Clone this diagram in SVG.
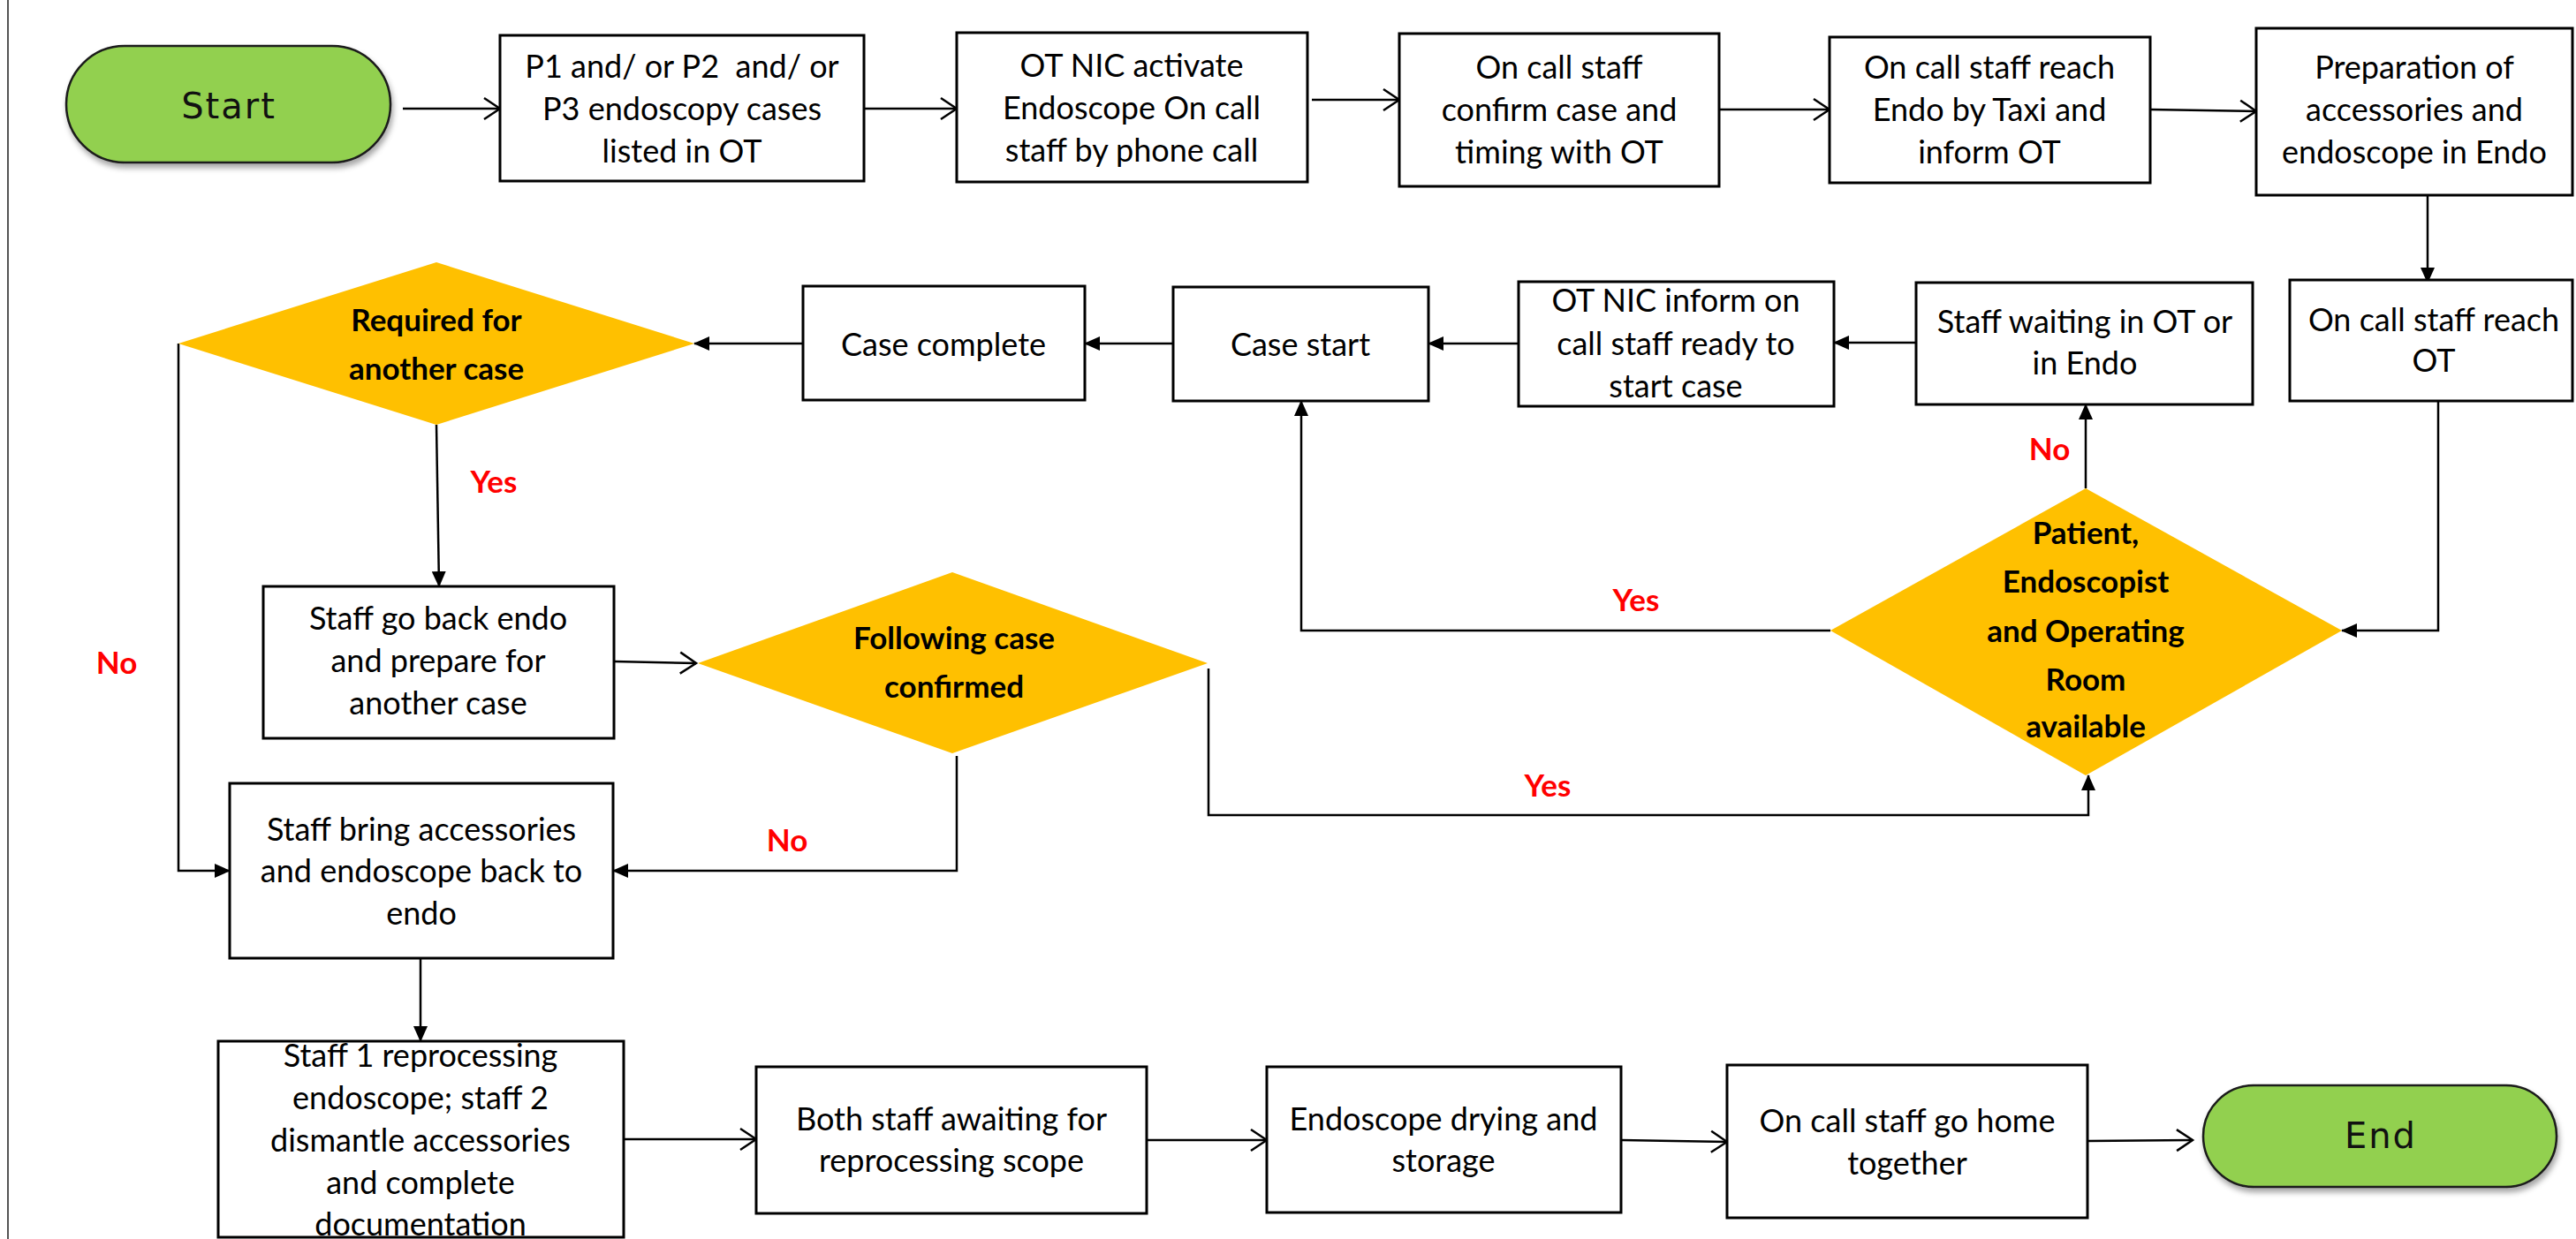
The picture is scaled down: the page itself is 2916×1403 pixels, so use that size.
<svg xmlns="http://www.w3.org/2000/svg" width="2916" height="1403" viewBox="0 0 2916 1403">
<style>
.bx{fill:#fff;stroke:#000;stroke-width:3}
.dm{fill:#FFC000;stroke:none}
.pill{fill:#92D050;stroke:#1a1a1a;stroke-width:2.5}
.t{font-family:Lato,"Open Sans","Liberation Sans",sans-serif;font-size:36px;text-anchor:middle;fill:#000}
.b{font-weight:bold;font-size:35px}
.lbl{font-family:Lato,"Open Sans","Liberation Sans",sans-serif;font-size:35px;font-weight:bold;fill:#FF0000;text-anchor:middle}
.pt{font-family:"DejaVu Sans",Verdana,sans-serif;font-size:40px;letter-spacing:2px;text-anchor:middle;fill:#111}
.c{fill:none;stroke:#000;stroke-width:2.5}
.of{marker-end:url(#open)}
.ff{marker-end:url(#fill)}
</style>
<defs>
<marker id="open" markerUnits="userSpaceOnUse" markerWidth="24" markerHeight="28" viewBox="0 0 24 28" refX="21" refY="14" orient="auto"><path d="M3,2 L21,14 L3,26" fill="none" stroke="#000" stroke-width="2.5"/></marker>
<marker id="fill" markerUnits="userSpaceOnUse" markerWidth="18" markerHeight="16" viewBox="0 0 18 16" refX="17" refY="8" orient="auto"><path d="M0,0 L18,8 L0,16 Z" fill="#000"/></marker>
<filter id="sh" x="-10%" y="-10%" width="120%" height="130%"><feDropShadow dx="2" dy="5" stdDeviation="3" flood-color="#000" flood-opacity="0.35"/></filter>
</defs>
<rect width="2916" height="1403" fill="#fff"/>
<line x1="9" y1="0" x2="9" y2="1403" stroke="#555" stroke-width="2"/>

<g id="connectors">
<path class="c of" d="M456,123 H566"/>
<path class="c of" d="M978,123 H1083"/>
<path class="c of" d="M1485,113 H1584"/>
<path class="c of" d="M1946,124 H2071"/>
<path class="c of" d="M2434,124 L2554,126"/>
<path class="c ff" d="M2748,221 V320"/>
<path class="c ff" d="M2760,454 V714 H2651"/>
<path class="c ff" d="M2361,553 V458"/>
<path class="c ff" d="M2169,388 H2076"/>
<path class="c ff" d="M1719,389 H1617"/>
<path class="c ff" d="M1328,389 H1228"/>
<path class="c ff" d="M909,389 H786"/>
<path class="c ff" d="M494,481 L497,664"/>
<path class="c ff" d="M202,389 V986 H260"/>
<path class="c of" d="M695,749 L788,751"/>
<path class="c ff" d="M1083,856 V986 H694"/>
<path class="c ff" d="M1368,757 V923 H2364 V878"/>
<path class="c ff" d="M2072,714 H1473 V454"/>
<path class="c ff" d="M476,1085 V1179"/>
<path class="c of" d="M706,1290 H856"/>
<path class="c of" d="M1298,1291 H1434"/>
<path class="c of" d="M1835,1291 L1955,1293"/>
<path class="c of" d="M2363,1292 L2482,1291"/>
<text class="lbl" x="559" y="558">Yes</text>
<text class="lbl" x="132" y="763">No</text>
<text class="lbl" x="1852" y="692">Yes</text>
<text class="lbl" x="1752" y="902">Yes</text>
<text class="lbl" x="891" y="964">No</text>
<text class="lbl" x="2320" y="521">No</text>
</g>

<g id="start">
<rect class="pill" x="75" y="52" width="367" height="132" rx="66" ry="66" filter="url(#sh)"/>
<text class="pt" x="259" y="134">Start</text>
</g>

<g id="n1">
<rect class="bx" x="566" y="40" width="412" height="165"/>
<text class="t" x="772" y="88" style="white-space:pre">P1 and/ or P2  and/ or</text>
<text class="t" x="772" y="136">P3 endoscopy cases</text>
<text class="t" x="772" y="184">listed in OT</text>
</g>

<g id="n2">
<rect class="bx" x="1083" y="37" width="397" height="169"/>
<text class="t" x="1281" y="87">OT NIC activate</text>
<text class="t" x="1281" y="135">Endoscope On call</text>
<text class="t" x="1281" y="183">staff by phone call</text>
</g>

<g id="n3">
<rect class="bx" x="1584" y="38" width="362" height="173"/>
<text class="t" x="1765" y="89">On call staff</text>
<text class="t" x="1765" y="137">confirm case and</text>
<text class="t" x="1765" y="185">timing with OT</text>
</g>

<g id="n4">
<rect class="bx" x="2071" y="42" width="363" height="165"/>
<text class="t" x="2252" y="89">On call staff reach</text>
<text class="t" x="2252" y="137">Endo by Taxi and</text>
<text class="t" x="2252" y="185">inform OT</text>
</g>

<g id="n5">
<rect class="bx" x="2554" y="32" width="358" height="189"/>
<text class="t" x="2733" y="89">Preparation of</text>
<text class="t" x="2733" y="137">accessories and</text>
<text class="t" x="2733" y="185">endoscope in Endo</text>
</g>

<g id="n6">
<rect class="bx" x="2592" y="317" width="320" height="137"/>
<text class="t" x="2755" y="375">On call staff reach</text>
<text class="t" x="2755" y="421">OT</text>
</g>

<g id="d3">
<polygon class="dm" points="2361,553 2651,714 2361,878 2072,714"/>
<text class="t b" x="2361" y="616">Patient,</text>
<text class="t b" x="2361" y="671">Endoscopist</text>
<text class="t b" x="2361" y="727">and Operating</text>
<text class="t b" x="2361" y="782">Room</text>
<text class="t b" x="2361" y="835">available</text>
</g>

<g id="n7">
<rect class="bx" x="2169" y="320" width="381" height="138"/>
<text class="t" x="2360" y="377">Staff waiting in OT or</text>
<text class="t" x="2360" y="424">in Endo</text>
</g>

<g id="n8">
<rect class="bx" x="1719" y="319" width="357" height="141"/>
<text class="t" x="1897" y="353">OT NIC inform on</text>
<text class="t" x="1897" y="402">call staff ready to</text>
<text class="t" x="1897" y="450">start case</text>
</g>

<g id="n9">
<rect class="bx" x="1328" y="325" width="289" height="129"/>
<text class="t" x="1472" y="403">Case start</text>
</g>

<g id="n10">
<rect class="bx" x="909" y="324" width="319" height="129"/>
<text class="t" x="1068" y="403">Case complete</text>
</g>

<g id="d1">
<polygon class="dm" points="494,297 786,389 494,481 202,389"/>
<text class="t b" x="494" y="375">Required for</text>
<text class="t b" x="494" y="430">another case</text>
</g>

<g id="n11">
<rect class="bx" x="298" y="664" width="397" height="172"/>
<text class="t" x="496" y="713">Staff go back endo</text>
<text class="t" x="496" y="761">and prepare for</text>
<text class="t" x="496" y="809">another case</text>
</g>

<g id="d2">
<polygon class="dm" points="1078,648 1367,751 1078,853 790,751"/>
<text class="t b" x="1080" y="735">Following case</text>
<text class="t b" x="1080" y="790">confirmed</text>
</g>

<g id="n12">
<rect class="bx" x="260" y="887" width="434" height="198"/>
<text class="t" x="477" y="952">Staff bring accessories</text>
<text class="t" x="477" y="999">and endoscope back to</text>
<text class="t" x="477" y="1047">endo</text>
</g>

<g id="n13">
<rect class="bx" x="247" y="1179" width="459" height="222"/>
<text class="t" x="476" y="1208">Staff 1 reprocessing</text>
<text class="t" x="476" y="1256">endoscope; staff 2</text>
<text class="t" x="476" y="1304">dismantle accessories</text>
<text class="t" x="476" y="1352">and complete</text>
<text class="t" x="476" y="1399">documentation</text>
</g>

<g id="n14">
<rect class="bx" x="856" y="1208" width="442" height="166"/>
<text class="t" x="1077" y="1280">Both staff awaiting for</text>
<text class="t" x="1077" y="1327">reprocessing scope</text>
</g>

<g id="n15">
<rect class="bx" x="1434" y="1208" width="401" height="165"/>
<text class="t" x="1634" y="1280">Endoscope drying and</text>
<text class="t" x="1634" y="1327">storage</text>
</g>

<g id="n16">
<rect class="bx" x="1955" y="1206" width="408" height="173"/>
<text class="t" x="2159" y="1282">On call staff go home</text>
<text class="t" x="2159" y="1330">together</text>
</g>

<g id="end">
<rect class="pill" x="2494" y="1229" width="400" height="115" rx="57.5" ry="57.5" filter="url(#sh)"/>
<text class="pt" x="2695" y="1300">End</text>
</g>
</svg>
